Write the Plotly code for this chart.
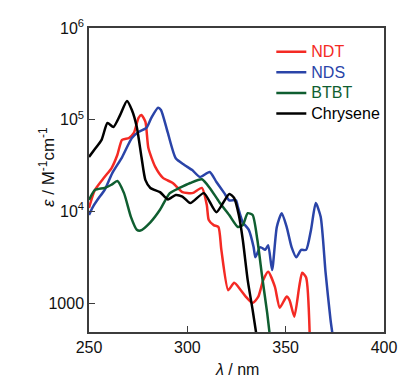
import plotly.graph_objects as go

# Chrysene
chr_wl = [250, 253, 256.4, 259.4, 262.4, 265.8, 269.3, 271.8, 274.3, 276.7, 278.7, 281.2, 286.1, 290.1,
          294.1, 297.5, 301.5, 308.4, 314.8, 321.3, 323.8, 326.2, 328.2, 330.7, 333.2, 335.5]
chr_eps = [39200, 47900, 60300, 92000, 83200, 112000, 160000, 127600, 83200, 38900, 21900, 18000, 16200, 13500,
           15100, 14500, 12300, 15800, 9800, 15500, 14000, 9100, 4900, 1780, 840, 400]

# NDT
ndt_wl = [250, 253, 257.9, 261.4, 264.4, 266.8, 270.3, 272.8, 275.2, 276.7, 278.7, 280.2, 283.7, 287.6,
          292.6, 297.5, 302.5, 307.4, 309.9, 310.9, 313.4, 315.8, 317.3, 320.8, 323.8, 327.2, 329.7, 333.2,
          336.1, 338.6, 341.1, 344.5, 347.0, 350.5, 352.0, 354.4, 356.9, 358.4, 360.4, 362.3]
ndt_eps = [10900, 17100, 23700, 29500, 41200, 60300, 63100, 71600, 104700, 112200, 94400, 49000, 30500, 23200,
           20400, 16200, 15800, 18000, 11700, 8050, 7080, 6760, 3800, 1380, 1660, 1380, 1175, 1000,
           1175, 1780, 2190, 1510, 890, 1175, 1070, 710, 1510, 2140, 1900, 400]

# NDS
nds_wl = [250, 252, 255.4, 257.9, 261.9, 266.8, 271.8, 275.2, 279.2, 281.7, 285.1, 286.6, 290.1, 294.1,
          298.5, 302.5, 306.4, 311.4, 314.8, 318.8, 321.3, 324.7, 325.7, 328.2, 331.2, 333.7, 334.6, 337.1,
          339.6, 341.1, 343.1, 345.5, 348.0, 350.5, 353.0, 355.4, 357.9, 360.4, 362.9, 365.3, 367.8, 370.3,
          372.8, 374.2]
nds_eps = [9120, 11200, 14400, 17000, 26300, 38900, 63100, 73500, 81300, 104700, 134900, 127600, 71600, 38000,
           32100, 28200, 23700, 26900, 20900, 15800, 13200, 13200, 11200, 7590, 6310, 4070, 3160, 4070,
           3800, 4270, 2290, 6760, 9550, 6760, 4070, 3160, 3800, 3800, 6310, 12300, 8710, 2140,
           660, 400]

# BTBT
btbt_wl = [250, 253, 257.9, 261.4, 264.4, 267.8, 271.3, 274.3, 276.2, 281.2, 286.1, 291.1, 296.0, 301.5,
           307.4, 311.4, 316.3, 321.3, 325.7, 328.2, 330.7, 333.2, 335.6, 338.1, 340.6, 342.2]
btbt_eps = [13300, 17100, 18000, 19500, 21400, 15800, 8710, 6310, 6170, 7590, 10400, 15800, 18000, 20400,
            22400, 18000, 12600, 9120, 6760, 7080, 9550, 9120, 4900, 1900, 780, 400]

x_ticks = [250, 300, 350, 400]
y_ticks = [1000, 1e4, 1e5, 1e6]
y_ticktext = ["1000", "10<sup>4</sup>", "10<sup>5</sup>", "10<sup>6</sup>"]

series = [
    ("NDT", ndt_wl, ndt_eps, "#f42a24"),
    ("NDS", nds_wl, nds_eps, "#2a44a8"),
    ("BTBT", btbt_wl, btbt_eps, "#0f5e30"),
    ("Chrysene", chr_wl, chr_eps, "#000000"),
]

FONT = "Liberation Sans, Arial, sans-serif"
fig = go.Figure()
for name, wl, eps, col in series:
    fig.add_trace(go.Scatter(
        x=wl, y=eps, mode="lines",
        name=f"<span style='color:{col};font-size:16px'>{name}</span>",
        line=dict(color=col, width=2.5, shape="spline", smoothing=0.6),
    ))

axis_common = dict(showline=True, linecolor="#3c3c3c", linewidth=1.5, mirror=True,
                   ticks="inside", ticklen=6, tickwidth=1.2, tickcolor="#3c3c3c",
                   showgrid=False, zeroline=False,
                   tickfont=dict(family=FONT, size=16, color="#111"))

fig.update_layout(
    width=409, height=381,
    margin=dict(l=89, r=17, t=28, b=49),
    paper_bgcolor="white", plot_bgcolor="white",
    xaxis=dict(range=[250, 400], tickvals=x_ticks, **axis_common),
    yaxis=dict(type="log", range=[2.684, 6], tickvals=y_ticks, ticktext=y_ticktext, **axis_common),
    showlegend=True,
    legend=dict(x=0.618, y=0.972, xanchor="left", yanchor="top", bgcolor="rgba(0,0,0,0)",
                font=dict(family=FONT, size=13.5, color="#000"), tracegroupgap=0,
                itemwidth=30),
    annotations=[
        dict(text="<i>λ</i> / nm", xref="paper", yref="paper", x=0.5, y=0, yshift=-48,
             showarrow=False, font=dict(family=FONT, size=16, color="#111"), yanchor="bottom"),
        dict(text="<i>ε</i> / M<sup>-1</sup>cm<sup>-1</sup>", xref="paper", yref="paper",
             x=0, xshift=-55, y=0.5, yshift=13, textangle=-90, showarrow=False,
             font=dict(family=FONT, size=17, color="#111")),
    ],
)

fig.write_html("out.html", config={"displayModeBar": False},
               post_script="document.body.style.margin='0';")
